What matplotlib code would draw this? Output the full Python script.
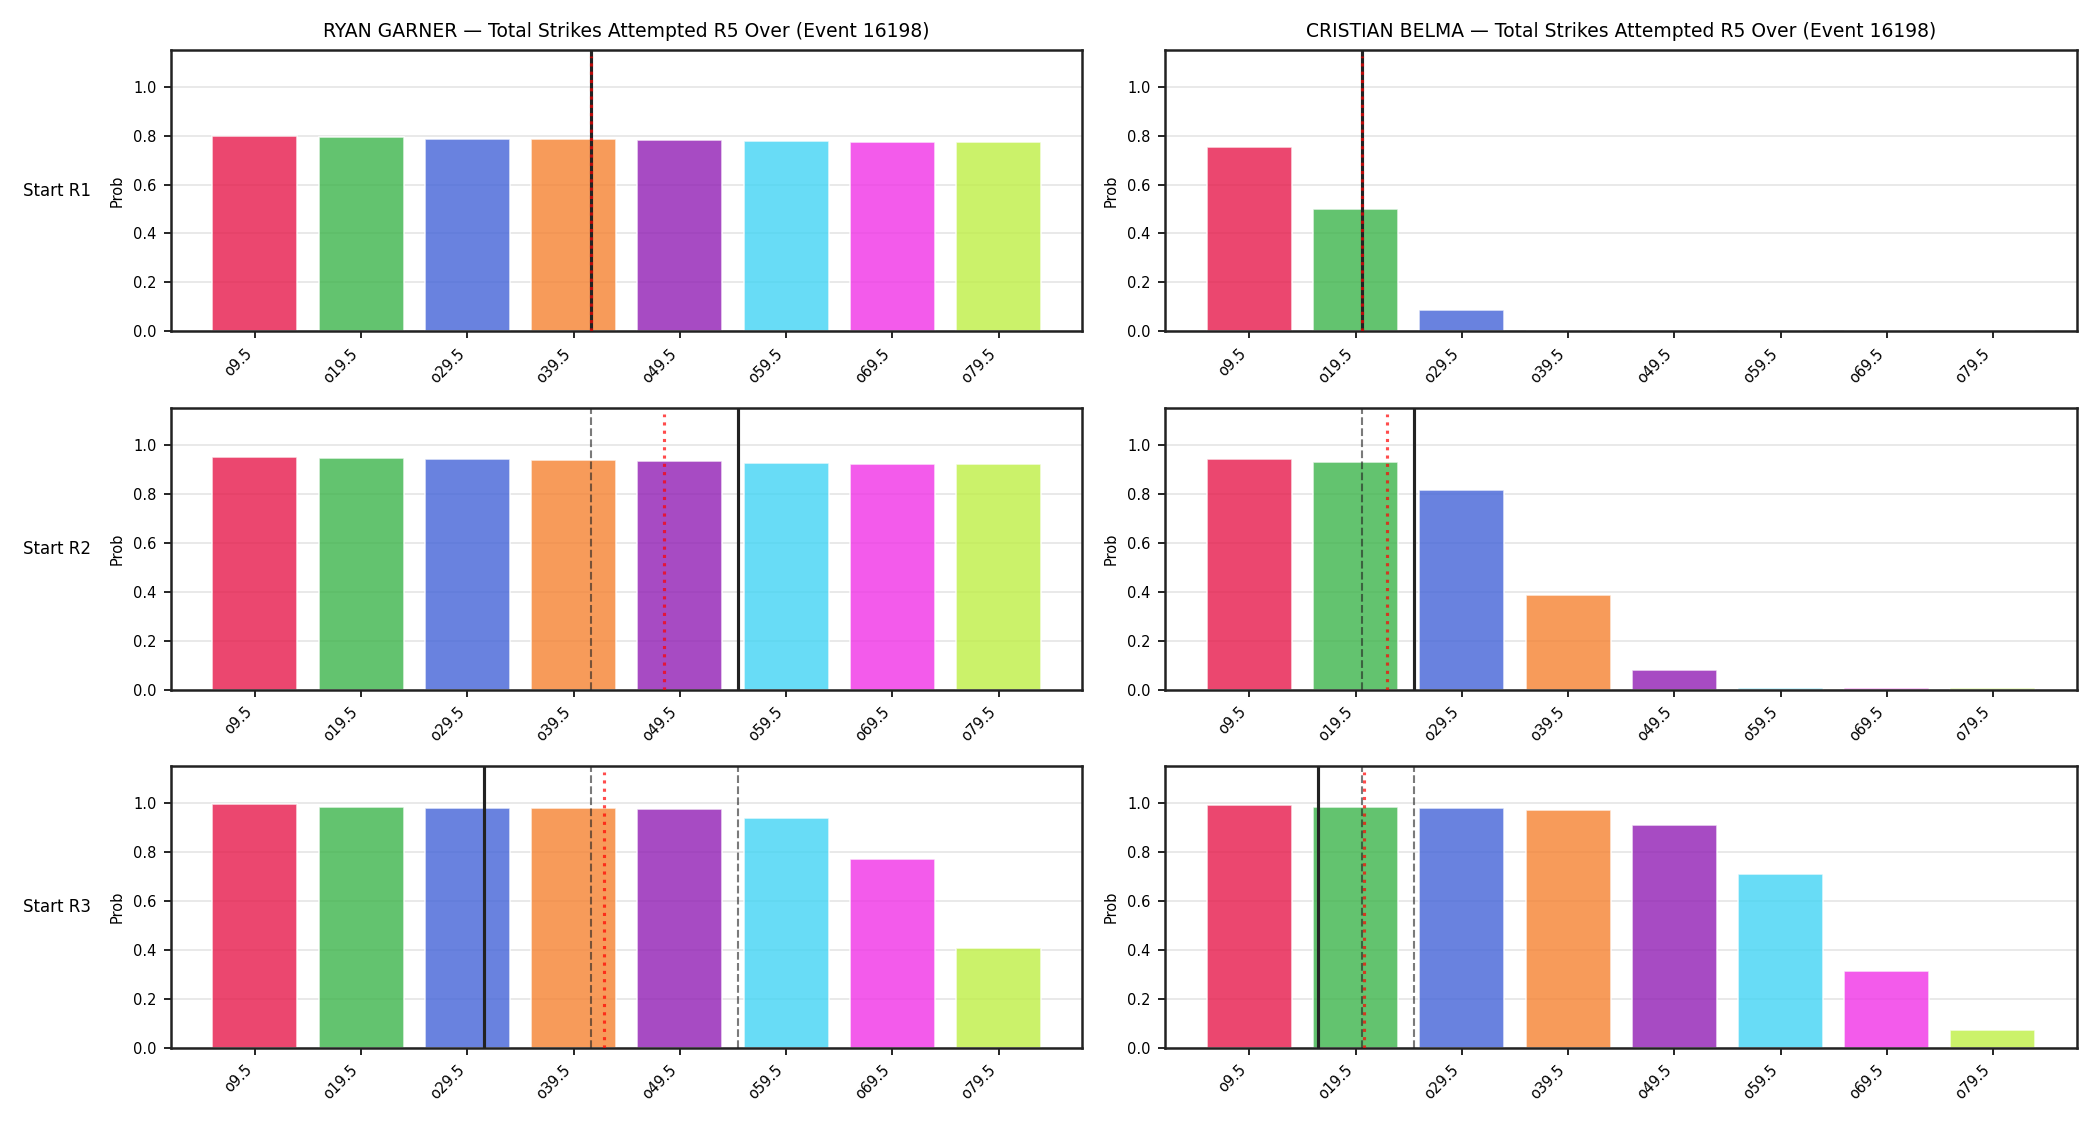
import numpy as np
import matplotlib
matplotlib.use("Agg")
import matplotlib.pyplot as plt

# thresholds on the x axis
thresholds = [9.5, 19.5, 29.5, 39.5, 49.5, 59.5, 69.5, 79.5]
tick_labels = ["o9.5", "o19.5", "o29.5", "o39.5", "o49.5", "o59.5", "o69.5", "o79.5"]
start_rounds = ["Start R1", "Start R2", "Start R3"]
fighters = ["RYAN GARNER", "CRISTIAN BELMA"]

# over probabilities per start round
garner_r1 = [0.800, 0.796, 0.788, 0.788, 0.780, 0.776, 0.772, 0.772]
garner_r2 = [0.951, 0.947, 0.943, 0.939, 0.935, 0.927, 0.922, 0.922]
garner_r3 = [0.997, 0.985, 0.981, 0.981, 0.977, 0.940, 0.772, 0.408]
belma_r1 = [0.752, 0.501, 0.086, 0.002, 0.002, 0.001, 0.001, 0.001]
belma_r2 = [0.943, 0.928, 0.816, 0.388, 0.078, 0.006, 0.006, 0.006]
belma_r3 = [0.993, 0.985, 0.981, 0.973, 0.911, 0.711, 0.314, 0.072]

# projected totals (solid) and market line (dotted)
garner_proj = [41.1, 55.0, 31.1]
garner_line = [41.1, 48.0, 42.4]
belma_proj = [20.1, 25.0, 16.0]
belma_line = [20.1, 22.5, 20.3]

probs = [[garner_r1, garner_r2, garner_r3], [belma_r1, belma_r2, belma_r3]]
projs = [garner_proj, belma_proj]
lines = [garner_line, belma_line]

colors = ["#e6194b", "#3cb44b", "#4363d8", "#f58231",
          "#911eb4", "#42d4f4", "#f032e6", "#bfef45"]

x = np.arange(len(thresholds))


def to_pos(v):
    return np.interp(v, thresholds, x)


fig, axes = plt.subplots(3, 2, figsize=(14, 7.5), dpi=150)
fig.subplots_adjust(left=0.0814, right=0.989, top=0.9556, bottom=0.0687,
                    hspace=0.273, wspace=0.091)

for col in range(2):
    for row in range(3):
        ax = axes[row, col]
        ax.bar(x, probs[col][row], width=0.8, color=colors, alpha=0.8,
               edgecolor="white", linewidth=0.8, zorder=2)
        ax.set_ylim(0, 1.15)
        ax.set_yticks([0.0, 0.2, 0.4, 0.6, 0.8, 1.0])
        ax.grid(axis="y", color="#e5e5e5", linewidth=0.8, zorder=0)
        ax.set_axisbelow(True)
        # earlier start rounds as dashed references
        for prev in range(row):
            ax.axvline(to_pos(projs[col][prev]), color="#222222", alpha=0.6,
                       linestyle="--", linewidth=1.0, zorder=3)
        ax.axvline(to_pos(projs[col][row]), color="#222222", linewidth=1.5, zorder=4)
        ax.axvline(to_pos(lines[col][row]), ymax=0.98, color="red", alpha=0.7,
                   linestyle=":", linewidth=1.5, zorder=5)
        ax.set_xticks(x)
        ax.set_xticklabels(tick_labels, rotation=45, ha="right", fontsize=7)
        ax.tick_params(axis="y", labelsize=7)
        ax.set_ylabel("Prob", fontsize=7)
        for s in ax.spines.values():
            s.set_color("#222222")
            s.set_linewidth(1.2)
        if row == 0:
            ax.set_title(f"{fighters[col]} — Total Strikes Attempted R5 Over (Event 16198)",
                         fontsize=9)
        if col == 0:
            ax.text(-0.1625, 0.5, start_rounds[row], transform=ax.transAxes,
                    ha="left", va="center", fontsize=8)

fig.savefig("out.png", dpi=150)
